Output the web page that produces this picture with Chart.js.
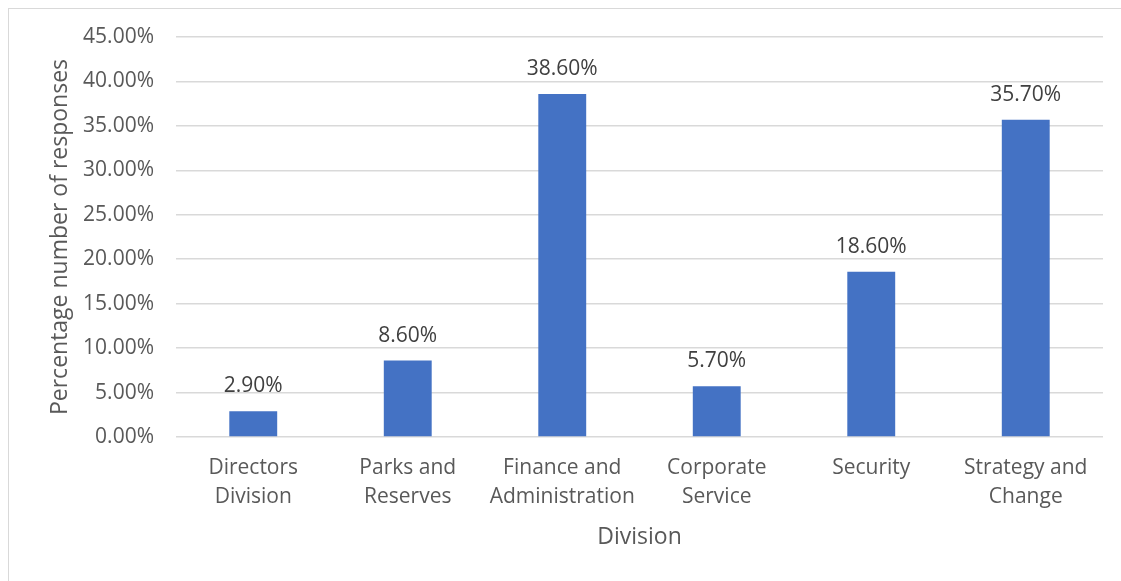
<!DOCTYPE html>
<html>
<head>
<meta charset="utf-8">
<script src="https://cdn.jsdelivr.net/npm/chart.js@4"></script>
<style>
  html, body { margin: 0; padding: 0; background: #fff; }
  .frame {
    position: absolute;
    left: 8px;
    top: 8px;
    width: 1140px;
    height: 600px;
    border: 1px solid #d9d9d9;
  }
  .wrap { position: absolute; left: 0; top: 0; width: 1121px; height: 581px; }
</style>
</head>
<body>
<div class="frame"></div>
<div class="wrap"><canvas id="divisionChart"></canvas></div>
<script>
// Share of responses by division
const divisions = [
  ["Directors", "Division"],
  ["Parks and", "Reserves"],
  ["Finance and", "Administration"],
  ["Corporate", "Service"],
  ["Security"],
  ["Strategy and", "Change"],
];
const responseShare = [2.9, 8.6, 38.6, 5.7, 18.6, 35.7];
const yTicks = [0, 5, 10, 15, 20, 25, 30, 35, 40, 45];

const FONT = "'Open Sans', sans-serif";
const TEXT = "#595959";

// Writes the percentage above each bar
const valueLabels = {
  id: "valueLabels",
  afterDatasetsDraw(chart) {
    const ctx = chart.ctx;
    const meta = chart.getDatasetMeta(0);
    ctx.save();
    ctx.font = "21px " + FONT;
    ctx.fillStyle = "#404040";
    ctx.textAlign = "center";
    ctx.textBaseline = "middle";
    meta.data.forEach((bar, i) => {
      ctx.fillText(responseShare[i].toFixed(2) + "%", bar.x, bar.y - 25);
    });
    ctx.restore();
  },
};

new Chart(document.getElementById("divisionChart"), {
  type: "bar",
  data: {
    labels: divisions,
    datasets: [
      {
        data: responseShare,
        backgroundColor: "#4472c4",
        categoryPercentage: 1,
        barPercentage: 0.31,
      },
    ],
  },
  options: {
    responsive: true,
    maintainAspectRatio: false,
    animation: false,
    layout: { padding: { left: 47, right: 18, top: 37, bottom: 30 } },
    plugins: {
      legend: { display: false },
      tooltip: { enabled: false },
    },
    scales: {
      x: {
        grid: { display: false },
        border: { display: false },
        ticks: {
          color: TEXT,
          font: { family: FONT, size: 21, lineHeight: 1.38 },
          padding: 9,
          maxRotation: 0,
          autoSkip: false,
        },
        title: {
          display: true,
          text: "Division",
          color: TEXT,
          font: { family: FONT, size: 23 },
          padding: 0,
        },
        afterFit(scale) {
          scale.height = 114;
        },
      },
      y: {
        min: 0,
        max: 45,
        afterBuildTicks(scale) {
          scale.ticks = yTicks.map((v) => ({ value: v }));
        },
        grid: { color: "#d9d9d9", lineWidth: 1.5, drawTicks: false },
        border: { display: false },
        ticks: {
          color: TEXT,
          font: { family: FONT, size: 21 },
          padding: 22,
          callback: (v) => v.toFixed(2) + "%",
        },
        title: {
          display: true,
          text: "Percentage number of responses",
          color: TEXT,
          font: { family: FONT, size: 23 },
          padding: 0,
        },
        afterFit(scale) {
          scale.width = 129;
        },
      },
    },
  },
  plugins: [valueLabels],
});
</script>
</body>
</html>
